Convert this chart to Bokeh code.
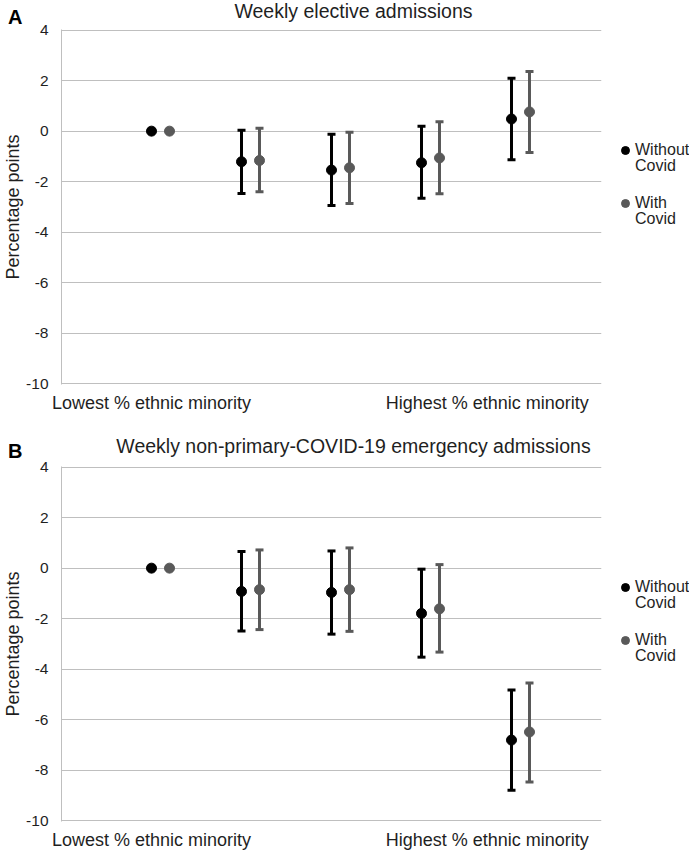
from bokeh.plotting import figure
from bokeh.models import (Range1d, ColumnDataSource, Whisker, TeeHead,
                          Legend, LegendItem, FixedTicker, Div)
from bokeh.layouts import column
from bokeh.embed import file_html
from bokeh.resources import INLINE
from bokeh.core.properties import value

# ---------------- data ----------------
categories = ["Q1 (lowest)", "Q2", "Q3", "Q4", "Q5 (highest)"]
y_ticks = [-10, -8, -6, -4, -2, 0, 2, 4]
x_tick_labels = ["Lowest % ethnic minority", "Highest % ethnic minority"]
series_names = ["Without", "With"]
series_suffix = "Covid"
panel_letters = ["A", "B"]
panel_titles = ["Weekly elective admissions",
                "Weekly non-primary-COVID-19 emergency admissions"]

elective_without = [0, -1.21, -1.54, -1.25, 0.48]
elective_without_lo = [0, -2.47, -2.94, -2.65, -1.13]
elective_without_hi = [0, 0.04, -0.12, 0.19, 2.09]
elective_with = [0, -1.16, -1.45, -1.06, 0.76]
elective_with_lo = [0, -2.40, -2.86, -2.48, -0.84]
elective_with_hi = [0, 0.11, -0.04, 0.37, 2.36]

emerg_without = [0, -0.92, -0.96, -1.79, -6.80]
emerg_without_lo = [0, -2.49, -2.61, -3.52, -8.78]
emerg_without_hi = [0, 0.66, 0.68, -0.04, -4.82]
emerg_with = [0, -0.85, -0.85, -1.61, -6.48]
emerg_with_lo = [0, -2.43, -2.50, -3.32, -8.46]
emerg_with_hi = [0, 0.72, 0.80, 0.14, -4.54]

# ---------------- style ----------------
FONT = "Liberation Sans"
TXT = "#1f1f1f"
GRID = "#BFBFBF"
C_WITHOUT = "#000000"
C_WITH = "#595959"
FW, FH = 540, 355
LEFT, RIGHT = 61, 86
PAD = 0.02  # tiny range padding so the 4 and -10 grid lines are drawn
A_TOP, A_H = 29, 437
B_TOP, B_H = 29, 412


def make_panel(series, top, height):
    p = figure(frame_width=FW, frame_height=FH,
               x_range=Range1d(0, 6), y_range=Range1d(-10 - PAD, 4 + PAD),
               min_border_left=LEFT, min_border_right=RIGHT,
               min_border_top=top, min_border_bottom=height - top - FH,
               output_backend="svg", toolbar_location=None)
    p.outline_line_color = None
    p.background_fill_color = "white"
    p.border_fill_color = "white"

    # y axis
    p.yaxis.ticker = FixedTicker(ticks=y_ticks)
    p.yaxis.major_label_overrides = {t: str(t) for t in y_ticks}
    p.yaxis.axis_line_color = GRID
    p.yaxis.major_tick_line_color = None
    p.yaxis.minor_tick_line_color = None
    p.yaxis.major_tick_out = 0
    p.yaxis.major_tick_in = 0
    p.yaxis.major_label_standoff = 13
    p.yaxis.major_label_text_font = FONT
    p.yaxis.major_label_text_font_size = "15.5px"
    p.yaxis.major_label_text_color = TXT
    p.yaxis.axis_label = "Percentage points"
    p.yaxis.axis_label_standoff = 0
    p.yaxis.axis_label_text_font = FONT
    p.yaxis.axis_label_text_font_size = "18px"
    p.yaxis.axis_label_text_font_style = "normal"
    p.yaxis.axis_label_text_color = TXT

    # x axis: only the two end labels
    p.xaxis.ticker = FixedTicker(ticks=[1, 4.73])
    p.xaxis.major_label_overrides = {1: x_tick_labels[0], 4.73: x_tick_labels[1]}
    p.xaxis.axis_line_color = None
    p.xaxis.major_tick_line_color = None
    p.xaxis.minor_tick_line_color = None
    p.xaxis.major_tick_out = 0
    p.xaxis.major_tick_in = 0
    p.xaxis.major_label_standoff = 8
    p.xaxis.major_label_text_font = FONT
    p.xaxis.major_label_text_font_size = "18px"
    p.xaxis.major_label_text_color = TXT

    p.xgrid.visible = False
    p.ygrid.ticker = FixedTicker(ticks=y_ticks)
    p.ygrid.grid_line_color = GRID
    p.ygrid.grid_line_width = 1

    xs_base = [i + 1 for i in range(len(categories))]
    renderers = []
    for k, (mid, lo, hi, col) in enumerate(series):
        xs = [x + 0.2 * k for x in xs_base]
        idx = [i for i in range(len(mid)) if lo[i] != hi[i]]
        src = ColumnDataSource(dict(x=[xs[i] for i in idx],
                                    lower=[lo[i] for i in idx],
                                    upper=[hi[i] for i in idx]))
        w = Whisker(source=src, base="x", lower="lower", upper="upper",
                    line_color=col, line_width=3,
                    upper_head=TeeHead(size=8, line_color=col, line_width=3),
                    lower_head=TeeHead(size=8, line_color=col, line_width=3))
        p.add_layout(w)
        r = p.scatter(xs, mid, size=10, fill_color=col, line_color=col)
        renderers.append(r)

    legend = Legend(items=[LegendItem(label=value(series_names[0]), renderers=[renderers[0]]),
                           LegendItem(label=value(series_names[1]), renderers=[renderers[1]])],
                    location=(14, 171), border_line_color=None,
                    background_fill_alpha=0, label_text_font=FONT,
                    label_text_font_size="16px", label_text_color=TXT,
                    glyph_width=20, glyph_height=20, label_standoff=0,
                    spacing=33, padding=0, margin=0)
    p.add_layout(legend, "right")
    return p


def overlay_text(text, left, top, size, bold=False, centered=False):
    styles = {"position": "absolute", "left": f"{left}px", "top": f"{top}px",
              "font-family": FONT, "font-size": size, "line-height": "1",
              "font-weight": "bold" if bold else "normal",
              "color": "#000000" if bold else TXT, "white-space": "nowrap",
              "z-index": "10", "margin": "0", "padding": "0"}
    if centered:
        styles["transform"] = "translateX(-50%)"
    return Div(text=text, styles=styles)


pA = make_panel([(elective_without, elective_without_lo, elective_without_hi, C_WITHOUT),
                 (elective_with, elective_with_lo, elective_with_hi, C_WITH)],
                top=A_TOP, height=A_H)
pB = make_panel([(emerg_without, emerg_without_lo, emerg_without_hi, C_WITHOUT),
                 (emerg_with, emerg_with_lo, emerg_with_hi, C_WITH)],
                top=B_TOP, height=B_H)

texts = [
    overlay_text(panel_letters[0], 8, 7, "20px", bold=True),
    overlay_text(panel_titles[0], 353.5, 1.5, "19.5px", centered=True),
    overlay_text(panel_letters[1], 8, 441, "20px", bold=True),
    overlay_text(panel_titles[1], 353.5, 436.5, "19.5px", centered=True),
]
# second line of each legend entry
for base in (0, A_H):
    texts.append(overlay_text(series_suffix, 635, base + 158, "16px"))
    texts.append(overlay_text(series_suffix, 635, base + 211, "16px"))

layout = column(pA, pB, *texts, spacing=0)
open("out.html", "w").write(file_html(layout, INLINE))
